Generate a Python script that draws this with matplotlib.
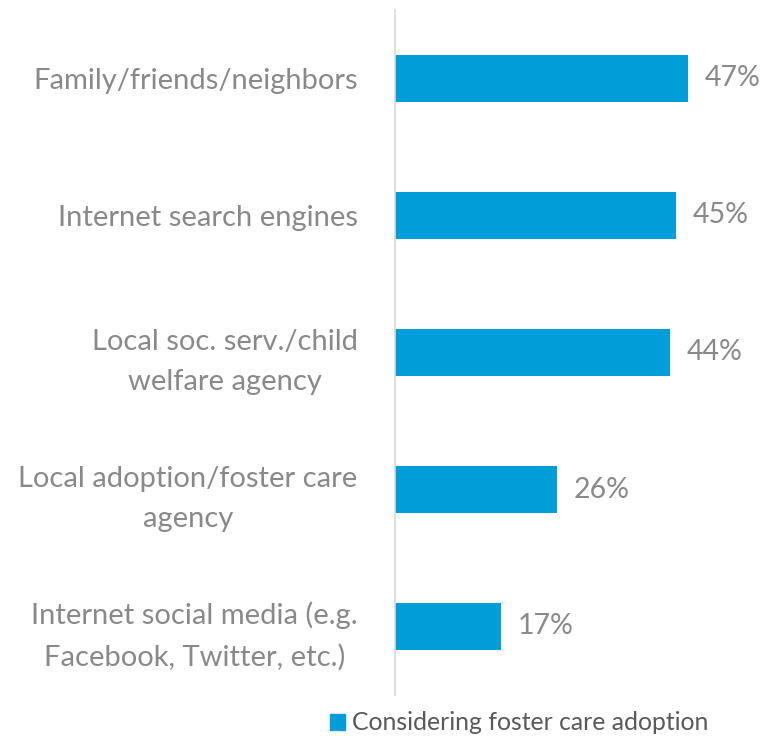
import matplotlib.pyplot as plt
from matplotlib.patches import Patch

categories = ["Family/friends/neighbors", "Internet search engines",
              "Local soc. serv./child\nwelfare agency",
              "Local adoption/foster care\nagency",
              "Internet social media (e.g.\nFacebook, Twitter, etc.)"]
values = [47, 45, 44, 26, 17]
series_name = "Considering foster care adoption"

plt.rcParams['font.family'] = ['Lato', 'DejaVu Sans']

fig = plt.figure(figsize=(7.6, 7.36), dpi=100)
ax = fig.add_axes([395/760, 1 - 695/736, (707 - 395)/760, 685/736])

blue = "#009DD9"
gray = "#898989"
pos = list(range(len(categories)))
ax.barh(pos, values, height=47/137, color=blue)
ax.set_ylim(len(categories) - 0.5, -0.5)
ax.set_xlim(0, 50)

for p, v in zip(pos, values):
    ax.text(v + 2.7, p, "{}%".format(v), va="center", ha="left",
            fontsize=20.5, color=gray)

ax.set_yticks(pos)
ax.set_yticklabels(categories, fontsize=21, color=gray,
                   linespacing=1.65, multialignment="center")
ax.tick_params(axis="y", length=0, pad=27)
ax.set_xticks([])
for s in ["top", "right", "bottom"]:
    ax.spines[s].set_visible(False)
ax.spines["left"].set_color("#D9D9D9")
ax.spines["left"].set_linewidth(1.2)

fig.legend(handles=[Patch(color=blue, label=series_name)],
           loc="center", bbox_to_anchor=(519/760, 1 - 723/736),
           frameon=False, fontsize=17.8, handlelength=0.6, handleheight=0.6,
           handletextpad=0.3, labelcolor="#595959")

fig.savefig("out.png", dpi=100)
